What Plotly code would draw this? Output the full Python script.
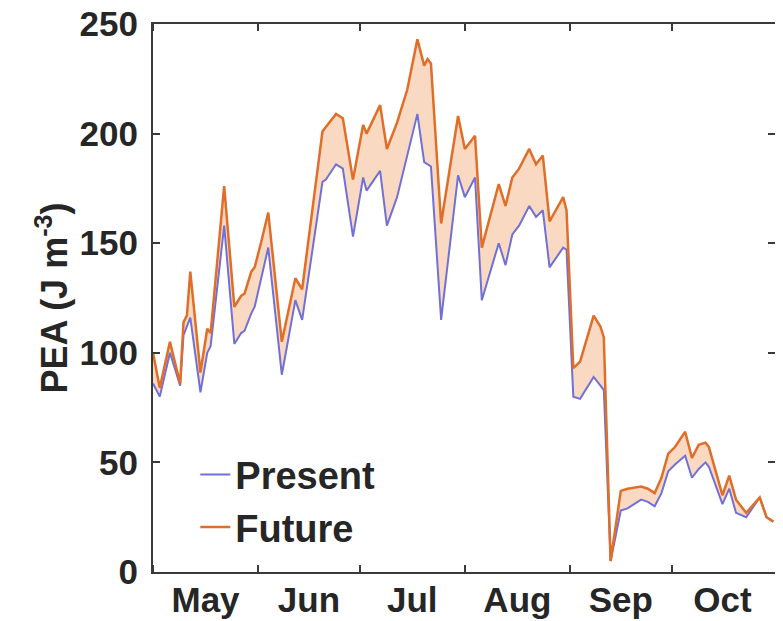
import datetime as dt
import plotly.graph_objects as go

# day offsets from 1 May
days = [0, 2, 5, 8, 9, 10, 11, 14, 16, 17, 21, 24, 26, 27, 29, 30, 32, 34, 38,
        42, 44, 50, 51, 54, 56, 59, 62, 63, 67, 69, 72, 75, 78, 80, 81, 82, 85,
        90, 92, 95, 97, 102, 104, 106, 108, 111, 113, 115, 117, 121, 122, 124,
        126, 130, 132, 133, 135, 138, 140, 144, 146, 148, 150, 152, 154, 157,
        159, 161, 163, 164, 168, 170, 172, 175, 179, 181, 183]

present = [86, 80, 100, 85, 108, 112, 116, 82, 100, 103, 158, 104, 109, 110, 118,
           121, 134, 148, 90, 124, 115, 178, 179, 186, 184, 153, 180, 174, 183,
           158, 171, 190, 209, 187, 186, 185, 115, 181, 171, 180, 124, 150, 140,
           154, 158, 167, 162, 165, 139, 148, 147, 80, 79, 89, 85, 83, 5, 28, 29,
           33, 32, 30, 36, 46, 49, 53, 43, 47, 50, 48, 31, 38, 27, 25, 34, 25, 23]

future = [100, 84, 105, 86, 114, 117, 137, 91, 111, 109, 176, 121, 126, 127, 137,
          139, 151, 164, 105, 134, 129, 201, 203, 209, 207, 179, 204, 200, 213,
          193, 205, 220, 243, 231, 234, 232, 159, 208, 193, 199, 148, 177, 167,
          180, 184, 193, 186, 190, 160, 171, 165, 93, 96, 117, 112, 107, 5, 37,
          38, 39, 38, 36, 43, 54, 57, 64, 52, 58, 59, 57, 35, 44, 33, 27, 34, 25, 23]

start = dt.date(2015, 5, 1)
dates = [start + dt.timedelta(days=d) for d in days]

ink = '#262626'
font = 'Liberation Sans, Arial, sans-serif'
blue = 'rgb(112,112,214)'
orange = 'rgb(224,110,40)'

fig = go.Figure()
fig.add_trace(go.Scatter(
    x=dates, y=present, mode='lines', name='Present',
    line=dict(color=blue, width=2),
))
# shaded band between the two runs
fig.add_trace(go.Scatter(
    x=dates, y=future, mode='lines', showlegend=False, hoverinfo='skip',
    line=dict(width=0), fill='tonexty', fillcolor='rgba(240,165,110,0.42)',
))
fig.add_trace(go.Scatter(
    x=dates, y=future, mode='lines', name='Future',
    line=dict(color=orange, width=2.5),
))

axis_common = dict(
    showline=True, linecolor='#3a3a3a', linewidth=2, mirror='ticks',
    ticks='inside', ticklen=7, tickwidth=2, tickcolor='#3a3a3a',
    showgrid=False, zeroline=False, automargin=False,
    ticklabeloverflow='allow',
    tickfont=dict(family=font, size=35, color=ink, weight='bold'),
)

fig.update_xaxes(
    type='date', range=['2015-05-01', '2015-10-31 12:00'],
    tick0='2015-05-01', dtick='M1', tickformat='%b', ticklabelmode='period',
    ticklabelstandoff=-4,
    **axis_common,
)
fig.update_yaxes(
    range=[0, 250], tickvals=[0, 50, 100, 150, 200, 250],
    ticklabelstandoff=6,
    title=dict(text='PEA (J m<sup>-3</sup>)', standoff=1,
               font=dict(family=font, size=36, color=ink, weight='bold')),
    **axis_common,
)

# page body adds an 8px offset, so the figure is 8px smaller each way
fig.update_layout(
    width=775, height=613,
    margin=dict(l=145, r=8, t=16, b=49),
    plot_bgcolor='white', paper_bgcolor='white',
    showlegend=True,
    legend=dict(
        x=0.068, y=0.025, xanchor='left', yanchor='bottom',
        traceorder='normal',
        bgcolor='rgba(0,0,0,0)', borderwidth=0,
        font=dict(family=font, size=38, color=ink, weight='bold'),
        itemwidth=30,
    ),
)

fig.write_html('out.html')
